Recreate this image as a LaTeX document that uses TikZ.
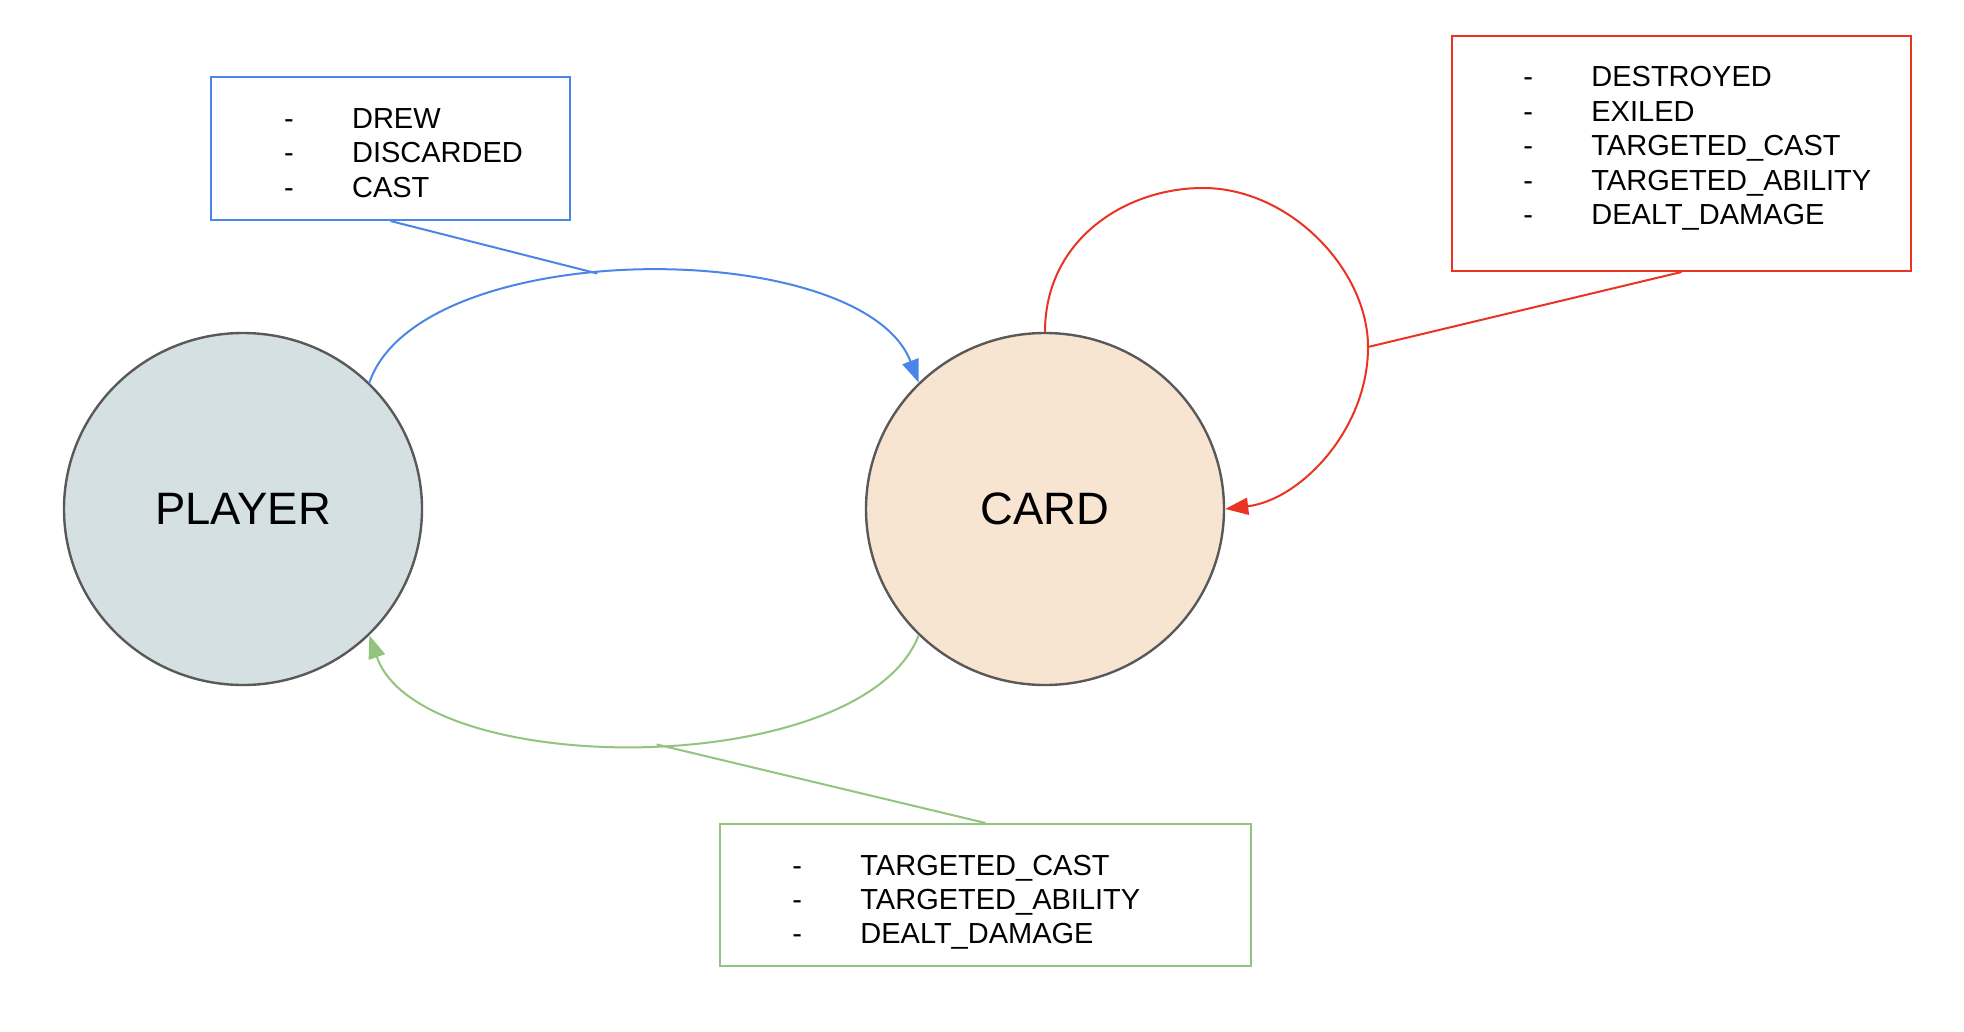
\documentclass[tikz,border=0pt]{standalone}
\usepackage{fontspec}
\setmainfont{Liberation Sans}
\usetikzlibrary{arrows.meta,shapes.geometric}
\definecolor{cblue}{HTML}{4A86E8}
\definecolor{cred}{HTML}{EA3323}
\definecolor{cgreen}{HTML}{93C47D}
\definecolor{cgray}{HTML}{595959}
\definecolor{cplayer}{HTML}{D5E0E3}
\definecolor{ccard}{HTML}{F8E5D1}
\begin{document}
\begin{tikzpicture}[x=0.5pt,y=-0.5pt,
  state/.style={ellipse,draw=cgray,line width=1.2pt,minimum width=179pt,minimum height=176pt,inner sep=0pt,font=\fontsize{22.7}{27}\selectfont},
  evbox/.style={rectangle,line width=1pt,inner sep=0pt},
  evlist/.style={anchor=base west,inner sep=0pt,font=\fontsize{14.5}{17.2}\selectfont},
  conn/.style={line width=1pt},
  tip/.style={-{Triangle[length=11.5pt,width=8.5pt]}}
]
\fill[white] (0,0) rectangle (1964,1032);
\useasboundingbox (0,0) rectangle (1964,1032);

\node[state,fill=cplayer] (player) at (243,509) {PLAYER};
\node[state,fill=ccard] (card) at (1045,509) {CARD};

\node[evbox,draw=cblue,minimum width=179.5pt,minimum height=71.5pt] (bluebox) at (390.5,148.5) {};
\node[evlist] (bluelist) at (283.7,128.4) {\begin{tabular}[t]{@{}l@{}}\makebox[34pt][l]{-}DREW\\\makebox[34pt][l]{-}DISCARDED\\\makebox[34pt][l]{-}CAST\end{tabular}};

\node[evbox,draw=cred,minimum width=229.5pt,minimum height=117.5pt] (redbox) at (1681.5,153.5) {};
\node[evlist] (redlist) at (1523,87) {\begin{tabular}[t]{@{}l@{}}\makebox[34pt][l]{-}DESTROYED\\\makebox[34pt][l]{-}EXILED\\\makebox[34pt][l]{-}TARGETED\_CAST\\\makebox[34pt][l]{-}TARGETED\_ABILITY\\\makebox[34pt][l]{-}DEALT\_DAMAGE\end{tabular}};

\node[evbox,draw=cgreen,minimum width=265.5pt,minimum height=71pt] (greenbox) at (985.5,895) {};
\node[evlist] (greenlist) at (792,875) {\begin{tabular}[t]{@{}l@{}}\makebox[34pt][l]{-}TARGETED\_CAST\\\makebox[34pt][l]{-}TARGETED\_ABILITY\\\makebox[34pt][l]{-}DEALT\_DAMAGE\end{tabular}};

\draw[conn,cblue,tip] (player.45) .. controls (420,235) and (862,235) .. (card.135) coordinate[pos=0.44] (bluemid);
\draw[conn,cgreen,tip] (card.225) .. controls (862,781) and (420,781) .. (player.315) coordinate[pos=0.48] (greenmid);
\draw[conn,cred,tip] (card.90) .. controls (1045,240) and (1125,188) .. (1203,188) .. controls (1290,188) and (1368,270) .. (1368,347) coordinate (redmid) .. controls (1368,430) and (1300,500) .. (card.0);

\draw[conn,cblue] (bluebox.south) -- (bluemid);
\draw[conn,cred] (redbox.south) -- (redmid);
\draw[conn,cgreen] (greenbox.north) -- (greenmid);
\end{tikzpicture}
\end{document}
